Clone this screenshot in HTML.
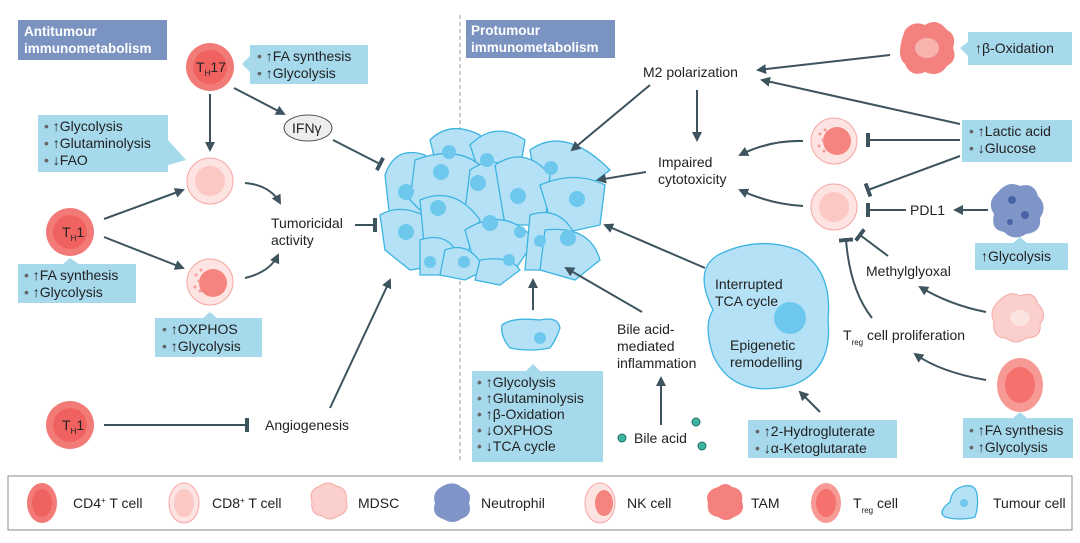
<!DOCTYPE html>
<html><head><meta charset="utf-8"><style>
html,body{margin:0;padding:0;background:#fff}
svg{display:block;font-family:"Liberation Sans",sans-serif}
text{font-size:14px;fill:#222}
.box{fill:#a6d9ec}
.ln{stroke:#3d535e;stroke-width:2;fill:none}
.hd{fill:#fff;font-weight:bold;font-size:13.5px}
.tc{fill:#b4e1f5;stroke:#3cb4e2;stroke-width:1.3}
.nu{fill:#6ec8ee}
.dot{fill:#666}
</style></head><body>
<svg width="1080" height="543" viewBox="0 0 1080 543">
<defs>
<marker id="a" viewBox="0 0 10 10" refX="8" refY="5" markerWidth="5" markerHeight="5" orient="auto"><path d="M0,0L10,5L0,10z" fill="#3d535e"/></marker>
<marker id="t" viewBox="0 0 4 14" refX="2" refY="7" markerWidth="2" markerHeight="7" orient="auto"><rect x="0" y="0" width="4" height="14" fill="#3d535e"/></marker>
</defs>

<rect x="18" y="20" width="149" height="40" fill="#7b93c0"/>
<text class="hd" x="24" y="36">Antitumour</text><text class="hd" x="24" y="53">immunometabolism</text>
<rect x="466" y="20" width="149" height="38" fill="#7b93c0"/>
<text class="hd" x="471" y="35">Protumour</text><text class="hd" x="471" y="52">immunometabolism</text>
<line x1="460" y1="15" x2="460" y2="462" stroke="#999" stroke-dasharray="4,3"/>

<circle cx="210" cy="67" r="24" fill="#f27b78"/><circle cx="210" cy="67" r="17" fill="#f0625f"/>
<text x="196" y="72" font-size="14">T<tspan font-size="8" dy="4">H</tspan><tspan dy="-4" font-size="14">17</tspan></text>
<path d="M242,64 L250,56 L250,84 L250,72z" class="box"/>
<rect x="250" y="45" width="118" height="39" class="box"/>
<text x="257" y="61"><tspan class="dot">•</tspan> ↑FA synthesis</text><text x="257" y="78"><tspan class="dot">•</tspan> ↑Glycolysis</text>
<line class="ln" x1="210" y1="94" x2="210" y2="150" marker-end="url(#a)"/>
<line class="ln" x1="234" y1="88" x2="284" y2="114" marker-end="url(#a)"/>
<ellipse cx="308" cy="128" rx="24" ry="13" fill="#eee" stroke="#555"/><text x="292" y="133">IFNγ</text>
<line class="ln" x1="333" y1="140" x2="380" y2="164" marker-end="url(#t)"/>

<rect x="38" y="115" width="130" height="57" class="box"/>
<path d="M168,140 L186,160 L168,165z" class="box"/>
<text x="44" y="131"><tspan class="dot">•</tspan> ↑Glycolysis</text><text x="44" y="148"><tspan class="dot">•</tspan> ↑Glutaminolysis</text><text x="44" y="165"><tspan class="dot">•</tspan> ↓FAO</text>
<circle cx="210" cy="181" r="23" fill="#fde3e1" stroke="#f6a7a3"/><circle cx="210" cy="181" r="15" fill="#fbc8c4"/>
<path class="ln" d="M245,183 Q270,185 280,203" marker-end="url(#a)"/>
<text x="271" y="228">Tumoricidal</text><text x="271" y="245">activity</text>
<line class="ln" x1="355" y1="225" x2="375" y2="225" marker-end="url(#t)"/>

<circle cx="70" cy="232" r="24" fill="#f27b78"/><circle cx="70" cy="232" r="17" fill="#f0625f"/>
<text x="62" y="237" font-size="14">T<tspan font-size="8" dy="4">H</tspan><tspan dy="-4" font-size="14">1</tspan></text>
<line class="ln" x1="104" y1="219" x2="183" y2="190" marker-end="url(#a)"/>
<line class="ln" x1="104" y1="237" x2="183" y2="268" marker-end="url(#a)"/>
<path d="M70,258 L62,265 L80,265z" class="box"/>
<rect x="18" y="264" width="118" height="39" class="box"/>
<text x="24" y="280"><tspan class="dot">•</tspan> ↑FA synthesis</text><text x="24" y="297"><tspan class="dot">•</tspan> ↑Glycolysis</text>
<circle cx="210" cy="282" r="23" fill="#fde3e1" stroke="#f6a7a3"/><circle cx="213" cy="283" r="14" fill="#f5847f"/>
<g fill="#f59a96"><circle cx="196" cy="275" r="1.5"/><circle cx="199" cy="281" r="1.5"/><circle cx="195" cy="287" r="1.5"/><circle cx="200" cy="291" r="1.5"/><circle cx="201" cy="270" r="1.5"/></g>
<path class="ln" d="M245,278 Q270,272 278,255" marker-end="url(#a)"/>
<path d="M210,312 L202,319 L218,319z" class="box"/>
<rect x="155" y="318" width="107" height="39" class="box"/>
<text x="162" y="334"><tspan class="dot">•</tspan> ↑OXPHOS</text><text x="162" y="351"><tspan class="dot">•</tspan> ↑Glycolysis</text>

<circle cx="70" cy="425" r="24" fill="#f27b78"/><circle cx="70" cy="425" r="17" fill="#f0625f"/>
<text x="62" y="430" font-size="14">T<tspan font-size="8" dy="4">H</tspan><tspan dy="-4" font-size="14">1</tspan></text>
<line class="ln" x1="104" y1="425" x2="247" y2="425" marker-end="url(#t)"/>
<text x="265" y="430">Angiogenesis</text>
<line class="ln" x1="330" y1="408" x2="390" y2="280" marker-end="url(#a)"/>

<g>
<path class="tc" d="M430,140 q20,-20 50,-5 l8,30 l-20,15 l-30,-8z"/>
<path class="tc" d="M470,145 q25,-25 55,-5 l-5,30 l-40,5z"/>
<path class="tc" d="M530,150 q35,-25 80,20 l-20,15 l-55,-5z"/>
<path class="tc" d="M385,175 q10,-30 40,-20 l15,35 l-15,30 l-35,0z"/>
<path class="tc" d="M415,160 q40,-15 65,5 l0,45 l-50,10 l-20,-20z"/>
<path class="tc" d="M470,170 q30,-20 45,10 l0,50 l-40,5 l-10,-25z"/>
<path class="tc" d="M495,165 q30,-20 55,10 l-5,50 l-40,0z"/>
<path class="tc" d="M540,185 q35,-15 65,0 l-5,40 l-45,10z"/>
<path class="tc" d="M380,215 q25,-15 60,10 l0,40 l-30,5 l-25,-20z"/>
<path class="tc" d="M420,200 q35,-15 60,20 l-15,40 l-40,-5z"/>
<path class="tc" d="M465,230 q40,-25 70,10 l-20,30 l-40,-5z"/>
<path class="tc" d="M530,215 q30,-10 45,20 l-10,35 l-40,0z"/>
<path class="tc" d="M545,230 q45,-5 55,30 l-25,20 l-35,-10z"/>
<path class="tc" d="M420,240 q30,-10 40,20 l-10,15 l-30,0z"/>
<path class="tc" d="M445,250 q25,-10 40,20 l-20,10 l-25,-5z"/>
<path class="tc" d="M480,260 q30,-5 40,10 l-20,15 l-25,-5z"/>
<g class="nu">
<circle cx="449" cy="152" r="7"/><circle cx="487" cy="160" r="7"/><circle cx="551" cy="168" r="7"/><circle cx="406" cy="192" r="8"/><circle cx="441" cy="172" r="8"/><circle cx="478" cy="183" r="8"/><circle cx="518" cy="196" r="8"/><circle cx="577" cy="199" r="8"/><circle cx="406" cy="232" r="8"/><circle cx="438" cy="208" r="8"/><circle cx="490" cy="223" r="8"/><circle cx="520" cy="232" r="6"/><circle cx="568" cy="238" r="8"/><circle cx="430" cy="262" r="6"/><circle cx="464" cy="262" r="6"/><circle cx="509" cy="260" r="6"/><circle cx="540" cy="241" r="6"/>
</g>
</g>

<text x="643" y="77">M2 polarization</text>
<line class="ln" x1="650" y1="85" x2="572" y2="150" marker-end="url(#a)"/>
<line class="ln" x1="697" y1="90" x2="697" y2="140" marker-end="url(#a)"/>
<text x="658" y="167">Impaired</text><text x="658" y="184">cytotoxicity</text>
<line class="ln" x1="646" y1="172" x2="598" y2="180" marker-end="url(#a)"/>
<line class="ln" x1="890" y1="55" x2="758" y2="70" marker-end="url(#a)"/>
<line class="ln" x1="960" y1="124" x2="762" y2="80" marker-end="url(#a)"/>
<path d="M905,30 q8,-10 20,-5 q12,-8 22,5 q10,5 6,18 q5,12 -6,18 q-8,12 -22,6 q-14,6 -20,-8 q-10,-8 0,-34z" fill="#f4817d"/>
<ellipse cx="927" cy="48" rx="12" ry="10" fill="#f8b3ae"/>
<path d="M960,48 L968,42 L968,56z" class="box"/>
<rect x="968" y="32" width="104" height="33" class="box"/>
<text x="975" y="53">↑β-Oxidation</text>

<circle cx="834" cy="141" r="23" fill="#fde3e1" stroke="#f6a7a3"/><circle cx="837" cy="141" r="14" fill="#f5847f"/>
<g fill="#f59a96"><circle cx="820" cy="134" r="1.5"/><circle cx="823" cy="140" r="1.5"/><circle cx="819" cy="146" r="1.5"/><circle cx="824" cy="151" r="1.5"/><circle cx="825" cy="130" r="1.5"/></g>
<path class="ln" d="M803,141 Q770,140 740,155" marker-end="url(#a)"/>
<line class="ln" x1="960" y1="140" x2="868" y2="140" marker-end="url(#t)"/>
<rect x="962" y="120" width="110" height="42" class="box"/>
<text x="969" y="136"><tspan class="dot">•</tspan> ↑Lactic acid</text><text x="969" y="153"><tspan class="dot">•</tspan> ↓Glucose</text>
<line class="ln" x1="960" y1="156" x2="868" y2="190" marker-end="url(#t)"/>

<circle cx="834" cy="207" r="23" fill="#fde3e1" stroke="#f6a7a3"/><circle cx="834" cy="207" r="15" fill="#fbc8c4"/>
<path class="ln" d="M803,206 Q770,204 740,190" marker-end="url(#a)"/>
<line class="ln" x1="906" y1="210" x2="868" y2="210" marker-end="url(#t)"/>
<text x="910" y="215">PDL1</text>
<line class="ln" x1="988" y1="210" x2="955" y2="210" marker-end="url(#a)"/>
<path d="M998,192 q10,-12 22,-6 q14,-4 18,10 q10,10 2,22 q2,14 -14,16 q-12,8 -22,-2 q-14,-2 -10,-18 q-8,-12 4,-22z" fill="#7f95c8"/>
<g fill="#4a63a8"><circle cx="1012" cy="200" r="4"/><circle cx="1025" cy="215" r="4"/><circle cx="1010" cy="222" r="3"/></g>
<path d="M1020,237 L1012,244 L1028,244z" class="box"/>
<rect x="975" y="243" width="93" height="27" class="box"/>
<text x="981" y="261">↑Glycolysis</text>

<line class="ln" x1="888" y1="256" x2="860" y2="235" marker-end="url(#t)"/>
<text x="866" y="276">Methylglyoxal</text>
<path class="ln" d="M986,312 Q950,305 920,287" marker-end="url(#a)"/>
<path d="M1000,300 q10,-10 20,-4 q14,-6 18,8 q10,10 2,20 q2,14 -14,14 q-10,8 -20,0 q-14,0 -12,-16 q-6,-12 6,-22z" fill="#fbd0cc" stroke="#f5a9a4"/>
<ellipse cx="1020" cy="318" rx="10" ry="8" fill="#fbe3e0"/>
<path class="ln" d="M872,318 Q850,290 846,240" marker-end="url(#t)"/>
<text x="843" y="340">T<tspan font-size="8" dy="5">reg</tspan><tspan dy="-5"> cell proliferation</tspan></text>
<path class="ln" d="M986,380 Q940,372 915,354" marker-end="url(#a)"/>
<ellipse cx="1020" cy="385" rx="23" ry="27" fill="#f79a96"/><ellipse cx="1020" cy="385" rx="15" ry="18" fill="#f4716d"/>
<path d="M1020,412 L1012,419 L1028,419z" class="box"/>
<rect x="963" y="418" width="110" height="40" class="box"/>
<text x="969" y="435"><tspan class="dot">•</tspan> ↑FA synthesis</text><text x="969" y="452"><tspan class="dot">•</tspan> ↑Glycolysis</text>

<path d="M718,255 q40,-20 80,-5 q35,20 30,70 q5,50 -35,65 q-60,15 -80,-30 q-10,-30 0,-45 q-20,-40 5,-55z" class="tc"/>
<circle cx="790" cy="318" r="16" class="nu"/>
<text x="715" y="289">Interrupted</text><text x="715" y="306">TCA cycle</text>
<text x="730" y="350">Epigenetic</text><text x="730" y="367">remodelling</text>
<line class="ln" x1="705" y1="268" x2="605" y2="225" marker-end="url(#a)"/>
<line class="ln" x1="820" y1="412" x2="800" y2="392" marker-end="url(#a)"/>
<rect x="748" y="420" width="149" height="38" class="box"/>
<text x="755" y="436"><tspan class="dot">•</tspan> ↑2-Hydrogluterate</text><text x="755" y="453"><tspan class="dot">•</tspan> ↓α-Ketoglutarate</text>

<text x="617" y="334">Bile acid-</text><text x="617" y="351">mediated</text><text x="617" y="368">inflammation</text>
<line class="ln" x1="642" y1="312" x2="566" y2="268" marker-end="url(#a)"/>
<line class="ln" x1="661" y1="425" x2="661" y2="378" marker-end="url(#a)"/>
<g fill="#3eb3a0" stroke="#1f6b62"><circle cx="622" cy="438" r="4"/><circle cx="696" cy="422" r="4"/><circle cx="702" cy="446" r="4"/></g>
<text x="634" y="443">Bile acid</text>

<line class="ln" x1="533" y1="310" x2="533" y2="280" marker-end="url(#a)"/>
<path class="tc" d="M502,325 q10,-8 38,-5 q18,-4 20,8 q-4,12 -10,20 q-20,4 -40,0 q-10,-12 -8,-23z"/>
<circle cx="540" cy="338" r="6" class="nu"/>
<path d="M533,364 L525,372 L541,372z" class="box"/>
<rect x="472" y="371" width="131" height="91" class="box"/>
<text x="477" y="387"><tspan class="dot">•</tspan> ↑Glycolysis</text><text x="477" y="403"><tspan class="dot">•</tspan> ↑Glutaminolysis</text><text x="477" y="419"><tspan class="dot">•</tspan> ↑β-Oxidation</text><text x="477" y="435"><tspan class="dot">•</tspan> ↓OXPHOS</text><text x="477" y="451"><tspan class="dot">•</tspan> ↓TCA cycle</text>

<!-- legend -->
<rect x="8" y="476" width="1064" height="54" fill="#fff" stroke="#888"/>
<ellipse cx="42" cy="503" rx="15" ry="20" fill="#f27b78"/><ellipse cx="42" cy="503" rx="10" ry="14" fill="#f0625f"/>
<text x="73" y="508">CD4<tspan font-size="8" dy="-5">+</tspan><tspan dy="5"> T cell</tspan></text>
<ellipse cx="184" cy="503" rx="15" ry="20" fill="#fde3e1" stroke="#f6a7a3"/><ellipse cx="184" cy="503" rx="10" ry="14" fill="#fbc8c4"/>
<text x="212" y="508">CD8<tspan font-size="8" dy="-5">+</tspan><tspan dy="5"> T cell</tspan></text>
<path d="M320,486 q8,-6 16,0 q12,2 10,14 q4,12 -8,16 q-8,6 -16,0 q-12,-2 -10,-14 q-4,-12 8,-16z" fill="#fbd0cc" stroke="#f5a9a4"/>
<text x="358" y="508">MDSC</text>
<path d="M445,485 q10,-4 16,2 q12,4 8,16 q4,12 -8,16 q-8,6 -18,0 q-12,-4 -8,-16 q-4,-12 10,-18z" fill="#7f95c8"/>
<text x="481" y="508">Neutrophil</text>
<ellipse cx="600" cy="503" rx="15" ry="20" fill="#fde3e1" stroke="#f6a7a3"/><ellipse cx="604" cy="503" rx="9" ry="13" fill="#f5847f"/>
<text x="627" y="508">NK cell</text>
<path d="M718,487 q8,-6 14,0 q12,2 10,14 q4,12 -8,16 q-8,6 -16,0 q-12,-2 -10,-14 q-4,-12 10,-16z" fill="#f4817d"/>
<text x="751" y="508">TAM</text>
<ellipse cx="826" cy="503" rx="15" ry="20" fill="#f79a96"/><ellipse cx="826" cy="503" rx="10" ry="14" fill="#f4716d"/>
<text x="853" y="508">T<tspan font-size="8" dy="5">reg</tspan><tspan dy="-5"> cell</tspan></text>
<path class="tc" d="M945,517 q-8,-5 5,-15 q2,-14 15,-16 q10,-2 12,8 q2,12 -2,23 q-15,4 -30,0z"/>
<circle cx="964" cy="503" r="4" class="nu"/>
<text x="993" y="508">Tumour cell</text>
</svg>
</body></html>
